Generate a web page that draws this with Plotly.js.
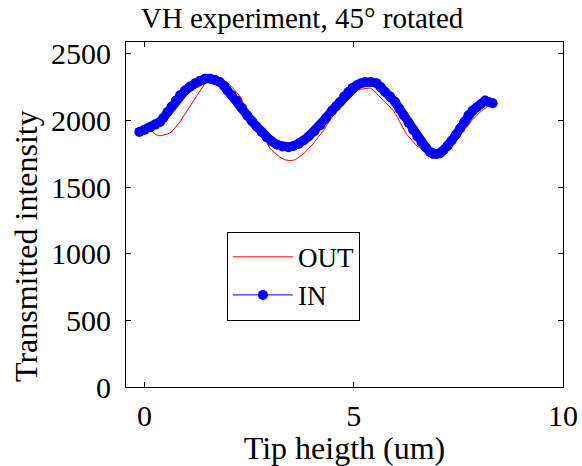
<!DOCTYPE html>
<html>
<head>
<meta charset="utf-8">
<script src="https://cdn.plot.ly/plotly-3.0.1.min.js"></script>
<style>html,body{margin:0;padding:0;background:#fff;}#chart{width:582px;height:466px;}</style>
</head>
<body>
<div id="chart"></div>
<script>
// IN series (blue, markers)
var inX = [-0.12,0.0,0.14,0.26,0.37,0.45,0.55,0.65,0.75,0.85,0.97,1.09,1.21,1.33,1.45,1.57,1.69,1.80,1.90,1.97,2.09,2.21,2.33,2.45,2.57,2.68,2.80,2.92,3.04,3.16,3.30,3.44,3.56,3.68,3.80,3.92,4.06,4.20,4.34,4.48,4.58,4.67,4.77,4.87,4.97,5.07,5.17,5.27,5.41,5.55,5.65,5.75,5.87,5.99,6.09,6.19,6.31,6.42,6.52,6.62,6.72,6.82,6.90,6.98,7.06,7.14,7.24,7.34,7.44,7.54,7.64,7.74,7.84,7.94,8.04,8.14,8.22,8.32];
var inY = [1915,1930,1950,1970,1990,2020,2065,2105,2150,2190,2225,2255,2280,2300,2315,2315,2305,2290,2260,2230,2190,2150,2095,2040,1995,1955,1915,1875,1845,1820,1805,1800,1810,1825,1850,1880,1920,1965,2020,2075,2110,2140,2180,2215,2245,2265,2280,2290,2290,2280,2250,2215,2180,2140,2090,2040,1985,1930,1880,1840,1800,1765,1750,1750,1755,1775,1810,1850,1895,1940,1990,2040,2075,2100,2125,2150,2140,2130];
// OUT series (red, thin line)
var outX = [-0.12,0.0,0.10,0.18,0.27,0.37,0.47,0.56,0.65,0.75,0.85,0.95,1.05,1.15,1.25,1.35,1.41,1.47,1.60,1.75,1.90,1.97,2.05,2.13,2.21,2.29,2.40,2.50,2.62,2.75,2.85,2.92,3.00,3.10,3.24,3.36,3.48,3.60,3.70,3.80,3.92,4.03,4.15,4.28,4.40,4.51,4.63,4.75,4.87,4.99,5.15,5.27,5.39,5.45,5.51,5.61,5.71,5.83,5.95,6.05,6.15,6.27,6.40,6.51,6.62,6.72,6.85,6.98,7.10,7.22,7.34,7.46,7.58,7.70,7.82,7.94,8.06,8.18];
var outY = [1915,1925,1930,1920,1895,1885,1890,1900,1915,1950,1990,2040,2090,2140,2190,2240,2265,2290,2295,2300,2295,2290,2265,2240,2210,2180,2110,2040,1970,1910,1865,1840,1790,1760,1725,1705,1700,1705,1730,1750,1790,1825,1875,1925,1990,2050,2095,2140,2180,2215,2235,2240,2245,2235,2215,2185,2155,2115,2075,2020,1965,1895,1850,1810,1790,1765,1745,1740,1760,1800,1845,1890,1935,1950,2000,2040,2075,2100];
var xTicks = [0,5,10];
var yTicks = [0,500,1000,1500,2000,2500];
var titleText = "VH experiment, 45° rotated";
var xTitle = "Tip heigth (um)";
var yTitle = "Transmitted intensity";

var font = "Liberation Serif, Times New Roman, serif";
var traces = [
  {x: inX, y: inY, name: "IN band", type: "scatter", mode: "lines", showlegend: false, hoverinfo: "skip",
   line: {color: "#0000ff", width: 9}},
  {x: outX, y: outY, name: "OUT", type: "scatter", mode: "lines",
   line: {color: "#ff0000", width: 1}},
  {x: inX, y: inY, name: "IN", type: "scatter", mode: "lines+markers",
   line: {color: "#0000ff", width: 1}, marker: {color: "#0000ff", size: 10}}
];
var axisCommon = {showgrid: false, zeroline: false, showline: true, mirror: "allticks",
  linecolor: "#000", linewidth: 1, ticks: "inside", ticklen: 5, tickcolor: "#000",
  tickfont: {family: font, size: 30, color: "#000"}};
var layout = {
  width: 582, height: 466,
  margin: {l: 126, r: 19, t: 42, b: 79},
  paper_bgcolor: "#fff", plot_bgcolor: "#fff",
  font: {family: font, color: "#000"},
  title: {text: titleText, font: {family: font, size: 29, color: "#000"},
    xref: "container", x: 0.519, xanchor: "center", yref: "container", y: 0.962, yanchor: "middle"},
  xaxis: Object.assign({}, axisCommon, {range: [-0.44, 10], tickvals: xTicks, ticktext: xTicks.map(String),
    ticklabelstandoff: 2,
    title: {text: xTitle, font: {family: font, size: 32, color: "#000"}, standoff: 2}}),
  yaxis: Object.assign({}, axisCommon, {range: [0, 2590], tickvals: yTicks, ticktext: yTicks.map(String),
    ticklabelstandoff: 8}),
  annotations: [{text: yTitle, textangle: -90, xref: "paper", yref: "paper",
    x: -0.2288, y: 0.4087, xanchor: "center", yanchor: "middle", showarrow: false,
    font: {family: font, size: 32, color: "#000"}}],
  showlegend: true,
  legend: {x: 0.231, y: 0.45, xanchor: "left", yanchor: "top", bgcolor: "#fff",
    bordercolor: "#000", borderwidth: 1, itemwidth: 60, entrywidth: 160, entrywidthmode: "pixels",
    font: {family: font, size: 27, color: "#000"}}
};
Plotly.newPlot("chart", traces, layout, {displayModeBar: false, staticPlot: true});
</script>
</body>
</html>
